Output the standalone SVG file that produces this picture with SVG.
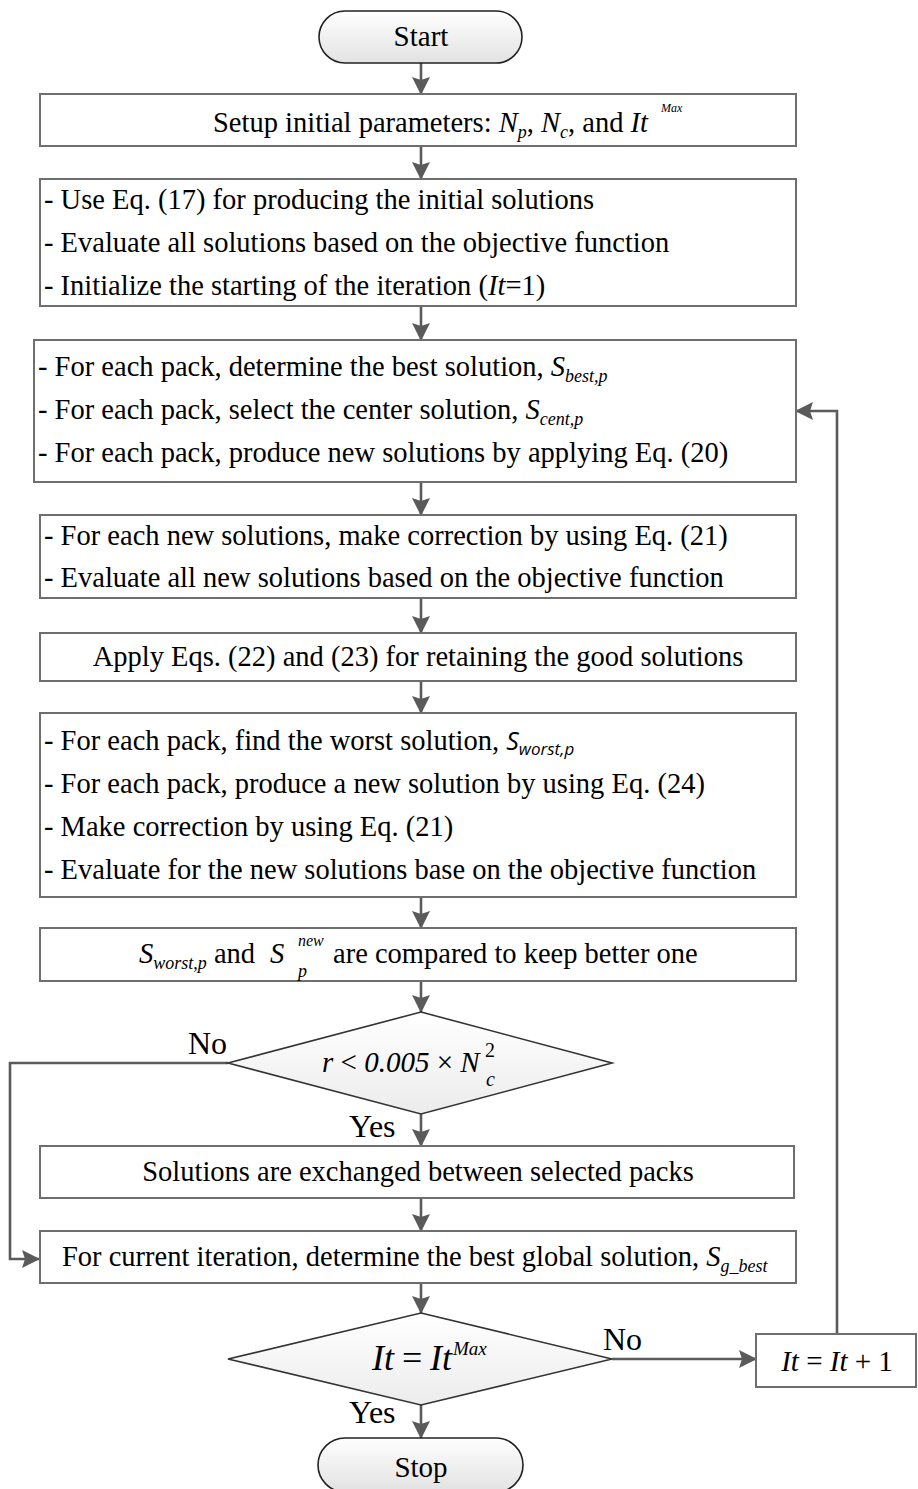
<svg xmlns="http://www.w3.org/2000/svg" width="918" height="1489" viewBox="0 0 918 1489">
<style>
.t{font-family:"Liberation Serif","Times New Roman",serif;font-size:28.5px;fill:#000}
.i{font-style:italic}
.box{fill:#fff;stroke:#6e6e6e;stroke-width:2}
.term{fill:url(#gt);stroke:#222;stroke-width:1.6}
.dia{fill:url(#gd);stroke:#333;stroke-width:1.6}
.con{fill:none;stroke:#5a5a5a;stroke-width:2.6}
.lbl{font-family:"Liberation Serif","Times New Roman",serif;font-size:32px;fill:#000}
.sans{font-family:"Open Sans","Liberation Sans",sans-serif;font-style:italic}
</style>
<defs>
<linearGradient id="gt" x1="0" y1="0" x2="0" y2="1"><stop offset="0" stop-color="#ffffff"/><stop offset="1" stop-color="#e2e2e2"/></linearGradient>
<linearGradient id="gd" x1="0" y1="0" x2="0" y2="1"><stop offset="0" stop-color="#ffffff"/><stop offset="1" stop-color="#ececec"/></linearGradient>
<marker id="ah" markerUnits="userSpaceOnUse" markerWidth="18" markerHeight="18" refX="17" refY="9" orient="auto">
<path d="M0,0 L18,9 L0,18 L3,9 z" fill="#5a5a5a"/>
</marker>
</defs>
<rect width="918" height="1489" fill="#fff"/>

<g id="connectors">
<line class="con" x1="421" y1="63" x2="421" y2="94" marker-end="url(#ah)"/>
<line class="con" x1="421" y1="146" x2="421" y2="179" marker-end="url(#ah)"/>
<line class="con" x1="421" y1="306" x2="421" y2="340" marker-end="url(#ah)"/>
<line class="con" x1="421" y1="482" x2="421" y2="515" marker-end="url(#ah)"/>
<line class="con" x1="421" y1="598" x2="421" y2="633" marker-end="url(#ah)"/>
<line class="con" x1="421" y1="681" x2="421" y2="713" marker-end="url(#ah)"/>
<line class="con" x1="421" y1="897" x2="421" y2="928" marker-end="url(#ah)"/>
<line class="con" x1="421" y1="981" x2="421" y2="1012" marker-end="url(#ah)"/>
<line class="con" x1="421" y1="1114" x2="421" y2="1146" marker-end="url(#ah)"/>
<polyline class="con" points="228,1063 10,1063 10,1259 39,1259" marker-end="url(#ah)"/>
<line class="con" x1="421" y1="1198" x2="421" y2="1231" marker-end="url(#ah)"/>
<line class="con" x1="421" y1="1283" x2="421" y2="1313" marker-end="url(#ah)"/>
<line class="con" x1="612" y1="1359" x2="756" y2="1359" marker-end="url(#ah)"/>
<polyline class="con" points="837,1334 837,411 796,411" marker-end="url(#ah)"/>
<line class="con" x1="421" y1="1405" x2="421" y2="1438" marker-end="url(#ah)"/>
<text class="lbl" x="188" y="1054">No</text>
<text class="lbl" x="349" y="1137">Yes</text>
<text class="lbl" x="603" y="1350">No</text>
<text class="lbl" x="349" y="1423">Yes</text>
</g>

<g id="start">
<rect class="term" x="319" y="11" width="203" height="52" rx="26"/>
<text class="t" x="421" y="46" text-anchor="middle" style="font-size:29px">Start</text>
</g>

<g id="setup">
<rect class="box" x="40" y="94" width="756" height="52"/>
<text class="t" x="213" y="132">Setup initial parameters: <tspan class="i">N</tspan><tspan class="i" font-size="18" dy="6">p</tspan><tspan dy="-6">, </tspan><tspan class="i">N</tspan><tspan class="i" font-size="18" dy="6">c</tspan><tspan dy="-6">, and </tspan><tspan class="i">It</tspan><tspan class="i" font-size="12" dx="13" dy="-20">Max</tspan></text>
</g>

<g id="init">
<rect class="box" x="40" y="179" width="756" height="127"/>
<text class="t" x="44" y="209">- Use Eq. (17) for producing the initial solutions</text>
<text class="t" x="44" y="252">- Evaluate all solutions based on the objective function</text>
<text class="t" x="44" y="295">- Initialize the starting of the iteration (<tspan class="i">It</tspan>=1)</text>
</g>

<g id="packs">
<rect class="box" x="34" y="340" width="762" height="142"/>
<text class="t" x="38" y="376">- For each pack, determine the best solution, <tspan class="i">S</tspan><tspan class="i" font-size="18" dy="6">best,p</tspan></text>
<text class="t" x="38" y="419">- For each pack, select the center solution, <tspan class="i">S</tspan><tspan class="i" font-size="18" dy="6">cent,p</tspan></text>
<text class="t" x="38" y="462">- For each pack, produce new solutions by applying Eq. (20)</text>
</g>

<g id="correct">
<rect class="box" x="40" y="515" width="756" height="83"/>
<text class="t" x="44" y="545">- For each new solutions, make correction by using Eq. (21)</text>
<text class="t" x="44" y="587">- Evaluate all new solutions based on the objective function</text>
</g>

<g id="retain">
<rect class="box" x="40" y="633" width="756" height="48"/>
<text class="t" x="418" y="666" text-anchor="middle">Apply Eqs. (22) and (23) for retaining the good solutions</text>
</g>

<g id="worst">
<rect class="box" x="40" y="713" width="756" height="184"/>
<text class="t" x="44" y="750">- For each pack, find the worst solution, <tspan class="sans" font-size="25">S</tspan><tspan class="sans" font-size="17" dy="5">worst,p</tspan></text>
<text class="t" x="44" y="793">- For each pack, produce a new solution by using Eq. (24)</text>
<text class="t" x="44" y="836">- Make correction by using Eq. (21)</text>
<text class="t" x="44" y="879">- Evaluate for the new solutions base on the objective function</text>
</g>

<g id="compare">
<rect class="box" x="40" y="928" width="756" height="53"/>
<text class="t" x="139" y="963"><tspan class="i">S</tspan><tspan class="i" font-size="18" dy="6">worst,p</tspan><tspan dy="-6"> and </tspan></text>
<text class="t i" x="270" y="963">S</text>
<text class="t i" x="298" y="946" style="font-size:16px">new</text>
<text class="t i" x="298" y="977" style="font-size:18px">p</text>
<text class="t" x="333" y="963">are compared to keep better one</text>
</g>

<g id="decision1">
<polygon class="dia" points="421,1012 612,1063 421,1114 228,1063"/>
<text class="t" x="322" y="1072" style="font-size:29px"><tspan class="i">r</tspan> &lt; <tspan class="i">0.005</tspan> × <tspan class="i">N</tspan></text>
<text class="t" x="485" y="1057" style="font-size:20px">2</text>
<text class="t i" x="486" y="1086" style="font-size:20px">c</text>
</g>

<g id="exchange">
<rect class="box" x="40" y="1146" width="754" height="52"/>
<text class="t" x="418" y="1181" text-anchor="middle">Solutions are exchanged between selected packs</text>
</g>

<g id="global">
<rect class="box" x="40" y="1231" width="756" height="52"/>
<text class="t" x="62" y="1266">For current iteration, determine the best global solution, <tspan class="i">S</tspan><tspan class="i" font-size="18" dy="6">g_best</tspan></text>
</g>

<g id="decision2">
<polygon class="dia" points="421,1313 612,1359 421,1405 228,1359"/>
<text class="t i" x="372" y="1370" style="font-size:36px">It</text>
<text class="t" x="402" y="1370" style="font-size:36px">=</text>
<text class="t i" x="430" y="1370" style="font-size:36px">It</text>
<text class="t i" x="453" y="1355" style="font-size:19px">Max</text>
</g>

<g id="increment">
<rect class="box" x="756" y="1334" width="160" height="53"/>
<text class="t" x="837" y="1371" text-anchor="middle" style="font-size:29px"><tspan class="i">It</tspan> = <tspan class="i">It</tspan> + 1</text>
</g>

<g id="stop">
<rect class="term" x="318" y="1438" width="205" height="54" rx="27"/>
<text class="t" x="421" y="1477" text-anchor="middle" style="font-size:29px">Stop</text>
</g>
</svg>
